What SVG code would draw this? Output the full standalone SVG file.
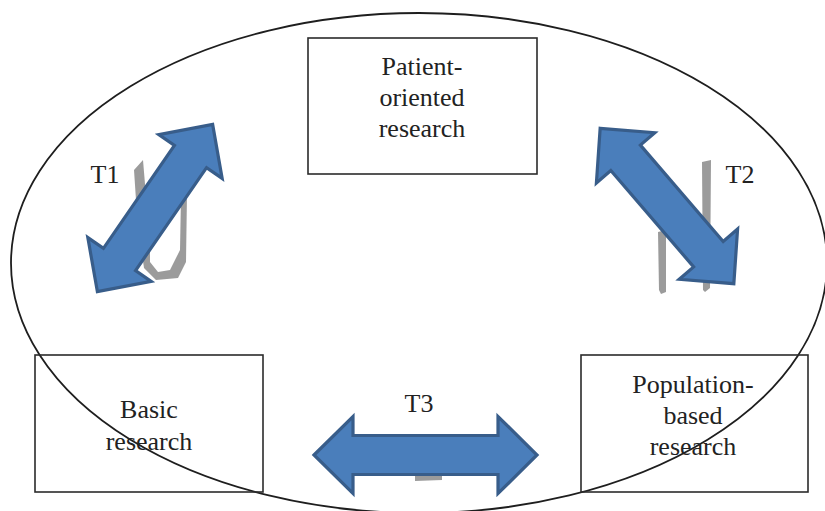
<svg xmlns="http://www.w3.org/2000/svg" width="825" height="511" viewBox="0 0 825 511">
<style>
.box{fill:none;stroke:#2b2b2b;stroke-width:1.6}
.lbl{font-family:"Liberation Serif","Times New Roman",serif;font-size:26px;fill:#222;text-anchor:middle}
.arr{fill:#4a7ebb;stroke:#385d8a;stroke-width:3.2;stroke-linejoin:miter}
.smudge{fill:#8a8a8a;opacity:0.85}
</style>
<rect width="825" height="511" fill="#fff"/>
<ellipse cx="419" cy="263" rx="408" ry="250" fill="none" stroke="#1e1e1e" stroke-width="1.8"/>
<g id="smudges">
<path class="smudge" d="M134,170 L143,160 L146,196 L150,230 L150,262 L158,272 L170,270 L180,250 L181,196 L187,194 L186,262 L178,278 L156,280 L144,268 L140,240 L136,200 Z"/>
<path class="smudge" d="M702,162 L711,160 L710,288 L705,292 L703,290 Z M658,232 L666,230 L666,292 L661,294 L659,290 Z"/>
<path class="smudge" d="M415,475 L442,474 L442,480 L415,481 Z"/>
</g>
<g id="node-patient">
<rect class="box" x="308" y="38" width="229" height="136"/>
<text class="lbl" x="422" y="75">Patient-</text>
<text class="lbl" x="422" y="106">oriented</text>
<text class="lbl" x="422" y="137">research</text>
</g>
<g id="node-basic">
<rect class="box" x="35" y="355" width="228" height="137"/>
<text class="lbl" x="149" y="418">Basic</text>
<text class="lbl" x="149" y="450">research</text>
</g>
<g id="node-population">
<rect class="box" x="581" y="355" width="227" height="137"/>
<text class="lbl" x="693" y="393">Population-</text>
<text class="lbl" x="693" y="424">based</text>
<text class="lbl" x="693" y="455">research</text>
</g>
<g id="connectors">
<g id="T1">
<path class="arr" transform="translate(155,208) rotate(-55.4)" d="M-101.5,0 L-62.5,-38.5 L-62.5,-19.5 L62.5,-19.5 L62.5,-38.5 L101.5,0 L62.5,38.5 L62.5,19.5 L-62.5,19.5 L-62.5,38.5 Z"/>
<text class="lbl" x="105" y="183">T1</text>
</g>
<g id="T2">
<path class="arr" transform="translate(667,206) rotate(49.3)" d="M-102.5,0 L-63.5,-38.5 L-63.5,-19.5 L63.5,-19.5 L63.5,-38.5 L102.5,0 L63.5,38.5 L63.5,19.5 L-63.5,19.5 L-63.5,38.5 Z"/>
<text class="lbl" x="740" y="183">T2</text>
</g>
<g id="T3">
<path class="arr" transform="translate(425.5,455)" d="M-111.5,0 L-72.5,-38.5 L-72.5,-19.5 L72.5,-19.5 L72.5,-38.5 L111.5,0 L72.5,38.5 L72.5,19.5 L-72.5,19.5 L-72.5,38.5 Z"/>
<text class="lbl" x="419" y="412">T3</text>
</g>
</g>
</svg>
